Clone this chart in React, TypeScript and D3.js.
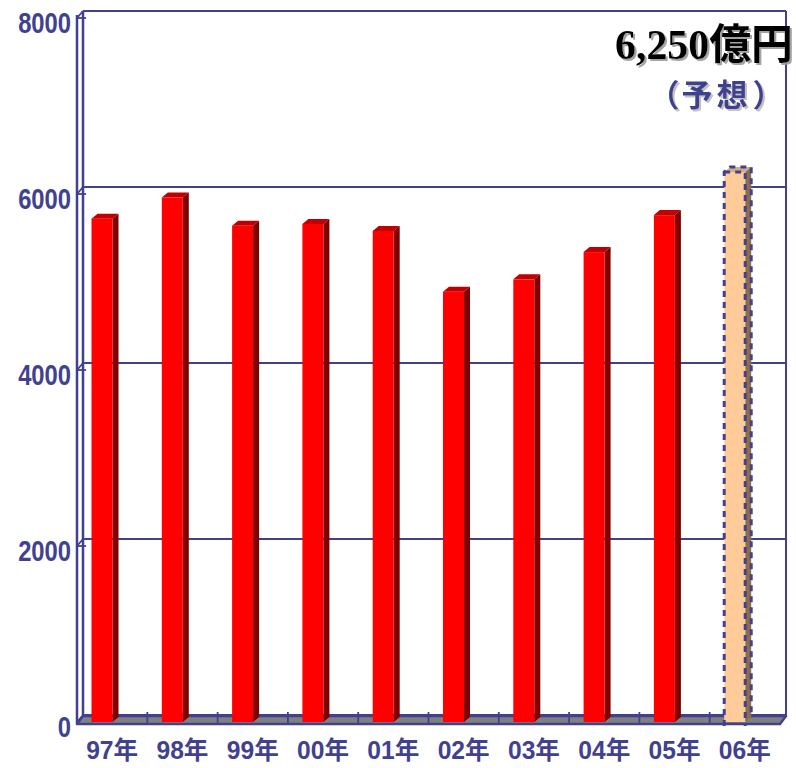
import React from "react";
import * as d3 from "d3";

// Annual figures (億円); the last year is a forecast
const years = ["97年", "98年", "99年", "00年", "01年", "02年", "03年", "04年", "05年", "06年"];
const values = [5720, 5960, 5640, 5660, 5580, 4890, 5030, 5340, 5760, 6250];
const forecastFlags = [false, false, false, false, false, false, false, false, false, true];
const yTicks = [0, 2000, 4000, 6000, 8000];
const calloutValue = "6,250億円";
const calloutNote = "（予想）";

const W = 796;
const H = 768;
const BLUE = "#414190";

// 3D offsets: walls/floor and bars recede up and to the right
const WALL_DX = 6;
const WALL_DY = -7;
const BAR_DX = 6;
const BAR_DY = -5;

// horizontal anchors for the characters of the forecast note
const noteCharX = [664, 697, 732, 768];

export default function App() {
  const y = d3.scaleLinear().domain([0, 8000]).range([722, 18]);
  const x = d3.scaleBand<string>().domain(years).range([77, 780]).padding(0);
  const bw = x.bandwidth();
  const barW = 21;
  const barOff = 14.5;

  const xLeft = 77;
  const xRight = 780;
  const y0 = y(0);

  const pts = (p: [number, number][]) => p.map((q) => q.join(",")).join(" ");

  return (
    <svg
      width={W}
      height={H}
      style={{ position: "absolute", left: 0, top: 0, background: "#fff" }}
    >
      <defs>
        <filter id="shadowDark" x="-10%" y="-20%" width="120%" height="150%">
          <feDropShadow dx={2} dy={2} stdDeviation={0.6} floodColor="#999" floodOpacity={0.9} />
        </filter>
        <filter id="shadowLight" x="-10%" y="-20%" width="120%" height="150%">
          <feDropShadow dx={2} dy={2} stdDeviation={0.6} floodColor="#bbb" floodOpacity={0.9} />
        </filter>
      </defs>

      {/* back wall gridlines */}
      {yTicks.map((t) => (
        <line
          key={"g" + t}
          x1={xLeft + WALL_DX}
          x2={xRight + WALL_DX}
          y1={y(t) + WALL_DY}
          y2={y(t) + WALL_DY}
          stroke={BLUE}
          strokeWidth={2}
        />
      ))}
      {/* right wall edge */}
      <line
        x1={xRight + WALL_DX}
        x2={xRight + WALL_DX}
        y1={y(8000) + WALL_DY}
        y2={y0 + WALL_DY}
        stroke={BLUE}
        strokeWidth={2}
      />
      {/* left wall: back and front edges */}
      <line
        x1={xLeft + WALL_DX}
        x2={xLeft + WALL_DX}
        y1={y(8000) + WALL_DY}
        y2={y0 + WALL_DY}
        stroke={BLUE}
        strokeWidth={2.5}
      />
      <line
        x1={xLeft}
        x2={xLeft}
        y1={y(8000) - 3}
        y2={y0 + 2}
        stroke={BLUE}
        strokeWidth={2.5}
      />
      {/* axis ticks on the wall */}
      {yTicks.map((t) => (
        <g key={"t" + t} stroke={BLUE} strokeWidth={1.8}>
          <line x1={xLeft} y1={y(t)} x2={xLeft + WALL_DX} y2={y(t) + WALL_DY} />
          <line x1={xLeft} y1={y(t)} x2={xLeft + 9} y2={y(t)} />
        </g>
      ))}

      {/* floor */}
      <polygon
        points={pts([
          [xLeft, y0 + 2],
          [xRight, y0 + 2],
          [xRight + WALL_DX, y0 + WALL_DY + 1],
          [xLeft + WALL_DX, y0 + WALL_DY + 1],
        ])}
        fill="#808080"
        stroke={BLUE}
        strokeWidth={2.5}
        strokeLinejoin="round"
      />
      {years.slice(1).map((c) => (
        <line
          key={"ft" + c}
          x1={x(c)!}
          x2={x(c)!}
          y1={y0 - 10}
          y2={y0 + 1}
          stroke={BLUE}
          strokeWidth={1.8}
        />
      ))}

      {/* bars */}
      {years.map((c, i) => {
        const v = values[i];
        const fx = x(c)! + barOff;
        const top = y(v);
        const forecast = forecastFlags[i];
        const front = forecast ? "#FFCC99" : "#FF0000";
        const side = forecast ? "#8C6E4C" : "#800000";
        const topC = forecast ? "#D2AE84" : "#C00000";
        return (
          <g key={"b" + c}>
            <polygon
              points={pts([
                [fx, top],
                [fx + barW, top],
                [fx + barW + BAR_DX, top + BAR_DY],
                [fx + BAR_DX, top + BAR_DY],
              ])}
              fill={topC}
            />
            <polygon
              points={pts([
                [fx + barW, top],
                [fx + barW + BAR_DX, top + BAR_DY],
                [fx + barW + BAR_DX, y0 + BAR_DY],
                [fx + barW, y0],
              ])}
              fill={side}
            />
            <rect x={fx} y={top} width={barW} height={y0 - top} fill={front} />
            {forecast && (
              <g fill="none" stroke={BLUE} strokeWidth={3} strokeDasharray="6 5">
                <polyline
                  points={pts([
                    [fx, y0 + 4],
                    [fx, top],
                    [fx + BAR_DX, top + BAR_DY],
                    [fx + barW + BAR_DX, top + BAR_DY],
                    [fx + barW + BAR_DX, y0 + BAR_DY],
                  ])}
                />
                <polyline
                  points={pts([
                    [fx, top],
                    [fx + barW, top],
                    [fx + barW, y0 + 4],
                  ])}
                />
              </g>
            )}
          </g>
        );
      })}

      {/* y-axis labels */}
      {yTicks.map((t) => (
        <text
          key={"yl" + t}
          transform={`translate(71,${y(t) + 15}) scale(0.82,1)`}
          textAnchor="end"
          fontFamily="Liberation Sans, Arial, sans-serif"
          fontWeight="bold"
          fontSize={29}
          fill={BLUE}
        >
          {t}
        </text>
      ))}

      {/* x-axis labels */}
      {years.map((c) => (
        <text
          key={"xl" + c}
          x={x(c)! + bw / 2 - 26}
          y={759}
          fontFamily="Liberation Sans, 'Noto Sans CJK JP', sans-serif"
          fontWeight="bold"
          fontSize={25}
          textLength={52}
          lengthAdjust="spacingAndGlyphs"
          fill={BLUE}
        >
          {c}
        </text>
      ))}

      {/* forecast callout */}
      <g fontWeight="bold">
        <text
          x={615}
          y={59}
          fontFamily="Liberation Serif, 'Noto Sans CJK JP', serif"
          fontSize={42}
          textLength={178}
          lengthAdjust="spacingAndGlyphs"
          fill="#000"
          filter="url(#shadowDark)"
        >
          {calloutValue}
        </text>
        <text
          y={106}
          fontFamily="'Noto Sans CJK JP', sans-serif"
          fontSize={31}
          textAnchor="middle"
          fill={BLUE}
          filter="url(#shadowLight)"
        >
          {Array.from(calloutNote).map((ch, i) => (
            <tspan key={"n" + i} x={noteCharX[i]}>
              {ch}
            </tspan>
          ))}
        </text>
      </g>
    </svg>
  );
}
